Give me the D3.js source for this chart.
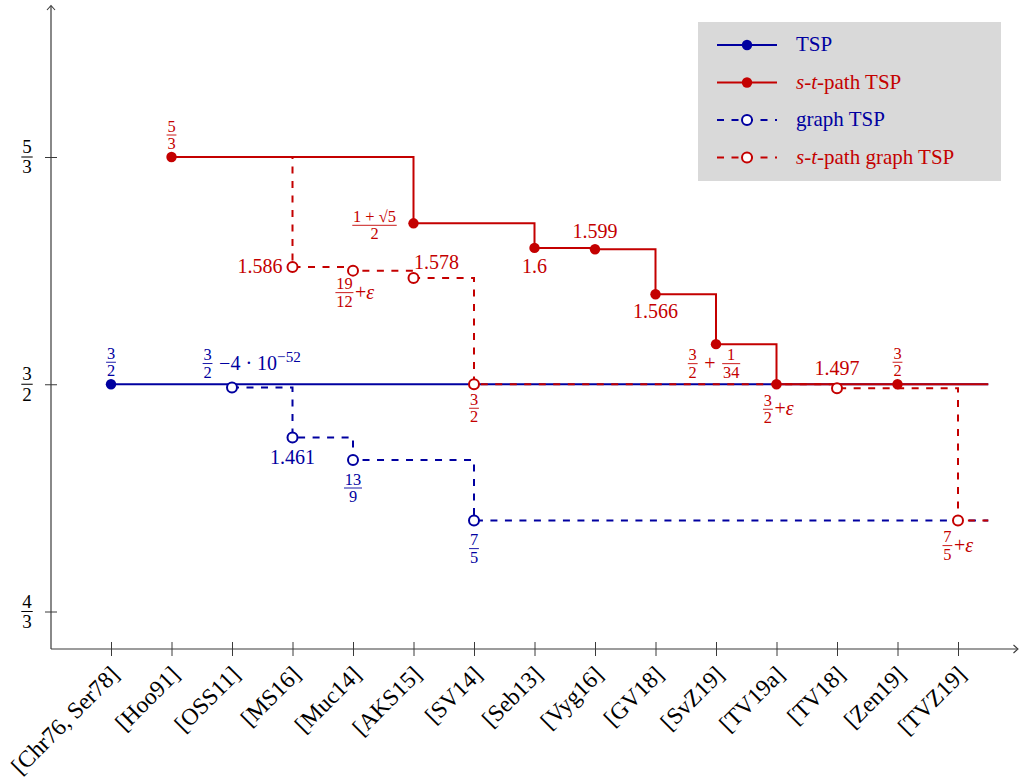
<!DOCTYPE html>
<html>
<head>
<meta charset="utf-8">
<script src="https://cdn.jsdelivr.net/npm/d3@7"></script>
<style>
  body { margin: 0; background: #fff; }
  svg { display: block; font-family: "Liberation Serif", "DejaVu Serif", serif; }
  text { white-space: pre; }
</style>
</head>
<body>
<svg id="chart" width="1020" height="778"></svg>
<script>
// references on the x axis
const categories = ['[Chr76, Ser78]', '[Hoo91]', '[OSS11]', '[MS16]', '[Muc14]', '[AKS15]', '[SV14]',
    '[Seb13]', '[Vyg16]', '[GV18]', '[SvZ19]', '[TV19a]', '[TV18]', '[Zen19]', '[TVZ19]'];

// label markup: [a|b] = fraction, ^(x) = superscript, *x* = italic
const tspRefs = ['[Chr76, Ser78]'];
const tspValues = [3 / 2];
const tspLabels = ['[3|2]'];

const graphRefs = ['[OSS11]', '[MS16]', '[Muc14]', '[SV14]'];
const graphValues = [1.4976, 1.461, 13 / 9, 7 / 5];
const graphLabels = ['[3|2] −4 · 10^(−52)', '1.461', '[13|9]', '[7|5]'];

const stRefs = ['[Hoo91]', '[AKS15]', '[Seb13]', '[Vyg16]', '[GV18]', '[SvZ19]', '[TV19a]', '[Zen19]'];
const stValues = [5 / 3, (1 + Math.sqrt(5)) / 2, 1.6, 1.599, 1.566, 3 / 2 + 1 / 34, 3 / 2, 3 / 2];
const stLabels = ['[5|3]', '[1 + √5|2]', '1.6', '1.599', '1.566', '[3|2] + [1|34]', '[3|2]+*ε*', '[3|2]'];

const stGraphRefs = ['[Hoo91]', '[MS16]', '[Muc14]', '[AKS15]', '[SV14]', '[TV18]', '[TVZ19]'];
const stGraphValues = [5 / 3, 1.586, 19 / 12, 1.578, 3 / 2, 1.497, 7 / 5];
const stGraphLabels = [null, '1.586', '[19|12]+*ε*', '1.578', '[3|2]', '1.497', '[7|5]+*ε*'];

const yTicks = [4 / 3, 3 / 2, 5 / 3];
const yTickLabels = ['[4|3]', '[3|2]', '[5|3]'];
const legendKeys = ['tsp', 'st', 'graph', 'stGraph'];
const legendNames = ['TSP', '*s*-*t*-path TSP', 'graph TSP', '*s*-*t*-path graph TSP'];

const BLUE = '#0000a0';
const RED = '#c40000';
const AXIS = '#3a3a3a';

const svg = d3.select('#chart');
const x0 = 51, y0 = 649;

const x = d3.scalePoint().domain(categories).range([111, 958]);
const y = d3.scaleLinear().domain([4 / 3, 5 / 3]).range([611.5, 157]);
const xEnd = x(categories[categories.length - 1]) + x.step() / 2;

// tiny math typesetter for the labels
function mathLabel(parent, str, px, py, anchor, color, size, fracScale) {
    const g = parent.append('g').attr('fill', color);
    let cx = 0, m;
    const re = /\[([^|\]]+)\|([^\]]+)\]|\^\(([^)]+)\)|\*([^*]+)\*|[^\[\^*]+/g;
    while ((m = re.exec(str))) {
        if (m[1] !== undefined) {
            const fs = size * fracScale;
            const num = g.append('text').attr('font-size', fs).attr('y', -0.2 * fs)
                .attr('text-anchor', 'middle').text(m[1]);
            const den = g.append('text').attr('font-size', fs).attr('y', 0.86 * fs)
                .attr('text-anchor', 'middle').text(m[2]);
            const w = Math.max(num.node().getComputedTextLength(), den.node().getComputedTextLength()) + 0.3 * fs;
            num.attr('x', cx + w / 2);
            den.attr('x', cx + w / 2);
            g.append('line')
                .attr('x1', cx + 0.1 * fs).attr('x2', cx + w - 0.1 * fs)
                .attr('y1', 0).attr('y2', 0)
                .attr('stroke', color).attr('stroke-width', Math.max(0.8, fs * 0.055));
            cx += w;
        } else if (m[3] !== undefined) {
            const t = g.append('text').attr('font-size', size * 0.76)
                .attr('x', cx).attr('y', -0.08 * size).text(m[3]);
            cx += t.node().getComputedTextLength();
        } else {
            const t = g.append('text').attr('font-size', size)
                .attr('x', cx).attr('y', 0.3 * size)
                .attr('font-style', m[4] !== undefined ? 'italic' : null)
                .text(m[4] !== undefined ? m[4] : m[0]);
            cx += t.node().getComputedTextLength();
        }
    }
    const shift = anchor === 'middle' ? -cx / 2 : anchor === 'end' ? -cx : 0;
    g.attr('transform', `translate(${px + shift},${py})`);
    return g;
}

// ── Axes ──
const xAxis = svg.append('g')
    .attr('transform', `translate(0,${y0})`)
    .call(d3.axisBottom(x).tickSizeInner(7).tickSizeOuter(0).tickPadding(0));
xAxis.select('.domain').remove();
xAxis.selectAll('.tick line').attr('y1', -7).attr('y2', 7).attr('stroke', AXIS).attr('stroke-width', 1);
xAxis.selectAll('.tick text')
    .attr('font-family', '"Liberation Serif", serif')
    .attr('font-size', 23.5)
    .attr('fill', '#000')
    .attr('text-anchor', 'end')
    .attr('dy', null)
    .attr('y', null)
    .attr('transform', 'translate(9,27) rotate(-45)');

const yAxis = svg.append('g')
    .attr('transform', `translate(${x0},0)`)
    .call(d3.axisLeft(y).tickValues(yTicks).tickFormat('').tickSizeInner(6).tickSizeOuter(0));
yAxis.select('.domain').remove();
yAxis.selectAll('.tick line').attr('x1', -6).attr('x2', 6).attr('stroke', AXIS).attr('stroke-width', 1);
yTicks.forEach((v, i) => mathLabel(svg, yTickLabels[i], 27, y(v), 'middle', '#000', 19, 1));

svg.append('line').attr('x1', x0).attr('x2', x0).attr('y1', y0).attr('y2', 6)
    .attr('stroke', AXIS).attr('stroke-width', 1.2);
svg.append('line').attr('x1', x0).attr('x2', 1017).attr('y1', y0).attr('y2', y0)
    .attr('stroke', AXIS).attr('stroke-width', 1.2);
svg.append('path').attr('d', `M${x0 - 4},10 L${x0},5.5 L${x0 + 4},10`)
    .attr('fill', 'none').attr('stroke', AXIS).attr('stroke-width', 1.1);
svg.append('path').attr('d', `M1013.5,${y0 - 4} L1018,${y0} L1013.5,${y0 + 4}`)
    .attr('fill', 'none').attr('stroke', AXIS).attr('stroke-width', 1.1);

// ── Series ──
const series = [
    { key: 'tsp', refs: tspRefs, values: tspValues, labels: tspLabels, color: BLUE, dashed: false },
    { key: 'graph', refs: graphRefs, values: graphValues, labels: graphLabels, color: BLUE, dashed: true },
    { key: 'st', refs: stRefs, values: stValues, labels: stLabels, color: RED, dashed: false },
    { key: 'stGraph', refs: stGraphRefs, values: stGraphValues, labels: stGraphLabels, color: RED, dashed: true }
];

// where each label sits relative to its point: [dx, dy, anchor]
const place = {
    tsp: { '[Chr76, Ser78]': [0, -22, 'middle'] },
    graph: { '[OSS11]': [-31, -24, 'start'], '[MS16]': [0, 21, 'middle'], '[Muc14]': [0, 28, 'middle'], '[SV14]': [0, 28, 'middle'] },
    st: {
        '[Hoo91]': [0, -22, 'middle'], '[AKS15]': [-39, 2, 'middle'], '[Seb13]': [0, 19, 'middle'],
        '[Vyg16]': [0, -17, 'middle'], '[GV18]': [0, 18, 'middle'], '[SvZ19]': [-2, 19.5, 'middle'],
        '[TV19a]': [1, 25, 'middle'], '[Zen19]': [0, -22, 'middle']
    },
    stGraph: {
        '[MS16]': [-10, 0, 'end'], '[Muc14]': [1, 22, 'middle'], '[AKS15]': [23, -15, 'middle'],
        '[SV14]': [0, 24, 'middle'], '[TV18]': [0, -19, 'middle'], '[TVZ19]': [-1, 25, 'middle']
    }
};

const line = d3.line()
    .x(d => d.x)
    .y(d => d.y)
    .curve(d3.curveStepAfter);

const linesG = svg.append('g');
const dotsG = svg.append('g');
const labelsG = svg.append('g');

series.forEach(s => {
    const pts = s.refs.map((r, i) => ({ ref: r, x: x(r), y: y(s.values[i]), label: s.labels[i] }));
    const path = pts.concat([{ x: xEnd, y: pts[pts.length - 1].y }]);

    linesG.append('path')
        .datum(path)
        .attr('d', line)
        .attr('fill', 'none')
        .attr('stroke', s.color)
        .attr('stroke-width', 2)
        .attr('stroke-dasharray', s.dashed ? '7,7.5' : null);

    pts.filter(p => p.label).forEach(p => {
        dotsG.append('circle')
            .attr('cx', p.x).attr('cy', p.y)
            .attr('r', s.dashed ? 5 : 5.2)
            .attr('fill', s.dashed ? '#fff' : s.color)
            .attr('stroke', s.dashed ? s.color : 'none')
            .attr('stroke-width', 2);
        const [dx, dy, anchor] = place[s.key][p.ref];
        mathLabel(labelsG, p.label, p.x + dx, p.y + dy, anchor, s.color, 20, 0.82);
    });
});

// ── Legend ──
const legend = svg.append('g');
legend.append('rect').attr('x', 698).attr('y', 22).attr('width', 303).attr('height', 159).attr('fill', '#d9d9d9');
legendKeys.forEach((k, i) => {
    const s = series.find(d => d.key === k);
    const ly = 45 + i * 37.5;
    legend.append('line')
        .attr('x1', 717).attr('x2', 777).attr('y1', ly).attr('y2', ly)
        .attr('stroke', s.color).attr('stroke-width', 2)
        .attr('stroke-dasharray', s.dashed ? '7,7.5' : null);
    legend.append('circle')
        .attr('cx', 747).attr('cy', ly).attr('r', s.dashed ? 5 : 5.2)
        .attr('fill', s.dashed ? '#fff' : s.color)
        .attr('stroke', s.dashed ? s.color : 'none')
        .attr('stroke-width', 2);
    mathLabel(legend, legendNames[i], 796, ly, 'start', s.color, 21, 0.7);
});
</script>
</body>
</html>
